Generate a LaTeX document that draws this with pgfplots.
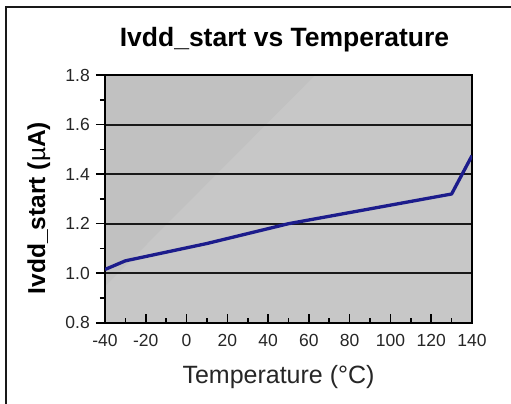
\documentclass[border=0pt]{standalone}
\usepackage{fontspec}
\setmainfont{Liberation Sans}
\usepackage{pgfplots}
\pgfplotsset{compat=1.18}
\definecolor{bgdark}{HTML}{C1C1C1}
\definecolor{bglight}{HTML}{C7C7C7}
\definecolor{lineblue}{HTML}{1C1C8C}
\begin{document}
\begin{tikzpicture}
\useasboundingbox (0,0) rectangle (511bp,404bp);
\fill[white] (0,0) rectangle (511bp,404bp);
\draw[line width=2bp, black!90] (6bp,-3bp) -- (6bp,396.5bp) -- (515bp,396.5bp);
\begin{axis}[
  at={(105bp,81.3bp)}, anchor=south west,
  scale only axis, width=367bp, height=247.5bp,
  xmin=-40, xmax=140, ymin=0.8, ymax=1.8,
  xtick={-40,-20,0,20,40,60,80,100,120,140}, minor x tick num=1,
  ytick={0.8,1.0,1.2,1.4,1.6,1.8}, minor y tick num=1,
  xtick pos=left, ytick pos=left,
  tick align=inside,
  major tick length=9bp, minor tick length=5bp,
  every tick/.style={black, line width=1.6bp},
  major y tick style={xshift=-9bp},
  minor y tick style={xshift=-5bp},
  axis line style={black, line width=1.8bp},
  ymajorgrids,
  major grid style={black!90, line width=1.8bp},
  axis background/.style={fill=bglight, path picture={\fill[bgdark] (path picture bounding box.north west) -- ++(210bp,0) -- ++(-210bp,-211bp) -- cycle;}},
  /pgf/number format/assume math mode=true,
  tick label style={font=\fontsize{17.5bp}{20bp}\selectfont, inner sep=0pt, text=black!85},
  xticklabel style={yshift=-11.5bp},
  yticklabel style={/pgf/number format/fixed, /pgf/number format/fixed zerofill, /pgf/number format/precision=1, xshift=-15bp},
  title={Ivdd\_start vs Temperature},
  title style={font=\bfseries\fontsize{26.5bp}{30bp}\selectfont, at={(axis description cs:0.4891,1.0925)}, anchor=base},
  xlabel={Temperature (°C)},
  xlabel style={font=\fontsize{25bp}{28bp}\selectfont, text=black!85, at={(axis description cs:0.4728,-0.245)}, anchor=base},
  ylabel={Ivdd\_start ({\mdseries µ}A)},
  ylabel style={font=\bfseries\fontsize{24.5bp}{28bp}\selectfont, at={(axis description cs:-0.163,0.4634)}, anchor=base},
]
\addplot[lineblue, line width=3.3bp, line join=round] coordinates {
  (-40,1.015) (-30,1.05) (10,1.12) (50,1.20) (130,1.32) (140,1.475)
};
\end{axis}
\end{tikzpicture}
\end{document}
